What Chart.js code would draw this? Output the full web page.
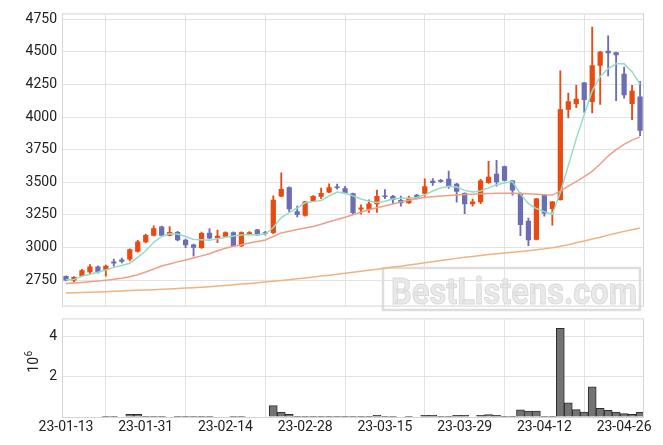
<!DOCTYPE html>
<html>
<head>
<meta charset="utf-8">
<script src="https://cdn.jsdelivr.net/npm/chart.js@4.4.1/dist/chart.umd.min.js"></script>
<style>
  html, body { margin: 0; padding: 0; background: #fff; }
  #wrap { position: relative; width: 663px; height: 445px; overflow: hidden; }
  canvas { position: absolute; left: 0; }
  #price { top: 0; }
  #volume { top: 305px; }
</style>
</head>
<body>
<div id="wrap">
  <canvas id="price" width="663" height="320"></canvas>
  <canvas id="volume" width="663" height="140"></canvas>
</div>
<script>
// trading days (KRX), one candle each
const dates = [
  "23-01-13", "23-01-16", "23-01-17", "23-01-18", "23-01-19", "23-01-20", "23-01-25", "23-01-26", "23-01-27", "23-01-30",
  "23-01-31", "23-02-01", "23-02-02", "23-02-03", "23-02-06", "23-02-07", "23-02-08", "23-02-09", "23-02-10", "23-02-13",
  "23-02-14", "23-02-15", "23-02-16", "23-02-17", "23-02-20", "23-02-21", "23-02-22", "23-02-23", "23-02-24", "23-02-27",
  "23-02-28", "23-03-02", "23-03-03", "23-03-06", "23-03-07", "23-03-08", "23-03-09", "23-03-10", "23-03-13", "23-03-14",
  "23-03-15", "23-03-16", "23-03-17", "23-03-20", "23-03-21", "23-03-22", "23-03-23", "23-03-24", "23-03-27", "23-03-28",
  "23-03-29", "23-03-30", "23-03-31", "23-04-03", "23-04-04", "23-04-05", "23-04-06", "23-04-07", "23-04-10", "23-04-11",
  "23-04-12", "23-04-13", "23-04-14", "23-04-17", "23-04-18", "23-04-19", "23-04-20", "23-04-21", "23-04-24", "23-04-25",
  "23-04-26", "23-04-27", "23-04-28"
]

const open = [
  2782, 2747, 2782, 2811, 2855, 2828, 2893, 2908, 2908, 2967,
  3040, 3091, 3162, 3091, 3120, 3060, 3023, 2996, 3113, 3074,
  3082, 3118, 3009, 3101, 3138, 3113, 3111, 3392, 3462, 3279,
  3243, 3353, 3389, 3421, 3467, 3455, 3416, 3292, 3289, 3331,
  3394, 3396, 3365, 3340, 3404, 3413, 3511, 3518, 3528, 3489,
  3418, 3331, 3347, 3494, 3565, 3623, 3513, 3418, 3206, 3060,
  3404, 3296, 3365, 4057, 4101, 4265, 4116, 4394, 4509, 4496,
  4333, 4101, 4157
]
const high = [
  2784, 2777, 2833, 2870, 2860, 2865, 2911, 2920, 2990, 3055,
  3103, 3167, 3164, 3160, 3125, 3065, 3026, 3118, 3145, 3133,
  3120, 3120, 3120, 3123, 3140, 3125, 3396, 3572, 3465, 3318,
  3355, 3398, 3455, 3489, 3486, 3470, 3418, 3328, 3365, 3440,
  3445, 3401, 3394, 3394, 3406, 3526, 3528, 3523, 3587, 3492,
  3420, 3372, 3523, 3660, 3669, 3625, 3515, 3420, 3226, 3377,
  3406, 3355, 4355, 4184, 4243, 4267, 4689, 4503, 4623, 4498,
  4384, 4243, 4274
]
const low = [
  2745, 2736, 2780, 2799, 2804, 2780, 2857, 2883, 2897, 2965,
  3038, 3089, 3089, 3089, 3050, 2999, 2933, 2994, 3067, 3038,
  3080, 3007, 3007, 3096, 3092, 3094, 3106, 3390, 3274, 3235,
  3240, 3351, 3374, 3419, 3448, 3414, 3258, 3255, 3270, 3270,
  3374, 3338, 3318, 3338, 3372, 3391, 3477, 3500, 3453, 3347,
  3260, 3318, 3336, 3492, 3470, 3509, 3401, 3091, 3014, 3058,
  3240, 3172, 3363, 3994, 4072, 4035, 4031, 4097, 4316, 4126,
  4145, 3980, 3857
]
const close = [
  2747, 2775, 2826, 2855, 2811, 2860, 2877, 2891, 2986, 3047,
  3096, 3147, 3091, 3120, 3055, 3018, 2999, 3111, 3069, 3091,
  3118, 3009, 3118, 3118, 3094, 3106, 3367, 3448, 3294, 3250,
  3353, 3396, 3418, 3462, 3457, 3416, 3265, 3306, 3338, 3396,
  3387, 3365, 3340, 3382, 3375, 3470, 3494, 3504, 3470, 3428,
  3331, 3353, 3513, 3543, 3501, 3511, 3438, 3172, 3055, 3375,
  3260, 3353, 4060, 4121, 4140, 4130, 4397, 4501, 4489, 4474,
  4167, 4201, 3896
]

// moving averages as drawn
const ma5 = [
  2754, 2756, 2780, 2795, 2811, 2828, 2848, 2862, 2880, 2925,
  2975, 3040, 3085, 3105, 3104, 3084, 3062, 3060, 3055, 3067,
  3079, 3089, 3096, 3099, 3099, 3104, 3153, 3230, 3267, 3303,
  3343, 3352, 3360, 3396, 3426, 3416, 3396, 3372, 3355, 3345,
  3355, 3372, 3377, 3377, 3384, 3404, 3433, 3457, 3470, 3464,
  3438, 3426, 3433, 3457, 3482, 3494, 3506, 3409, 3336, 3299,
  3275, 3255, 3421, 3628, 3835, 4018, 4201, 4311, 4372, 4408,
  4408, 4348, 4250
]
const ma20 = [
  2725, 2728, 2732, 2737, 2743, 2750, 2757, 2765, 2776, 2792,
  2812, 2835, 2858, 2874, 2890, 2905, 2920, 2936, 2952, 2975,
  2995, 3010, 3022, 3035, 3046, 3058, 3085, 3112, 3125, 3138,
  3150, 3162, 3178, 3198, 3215, 3232, 3252, 3270, 3290, 3305,
  3318, 3333, 3350, 3363, 3374, 3383, 3390, 3395, 3398, 3403,
  3406, 3409, 3412, 3414, 3416, 3417, 3416, 3415, 3412, 3408,
  3404, 3402, 3433, 3470, 3506, 3543, 3584, 3640, 3701, 3750,
  3791, 3823, 3848
]
const ma60 = [
  2652, 2654, 2656, 2658, 2660, 2662, 2665, 2667, 2670, 2672,
  2675, 2677, 2680, 2683, 2686, 2689, 2692, 2696, 2700, 2705,
  2710, 2715, 2720, 2725, 2730, 2735, 2741, 2747, 2754, 2760,
  2767, 2774, 2781, 2788, 2795, 2803, 2811, 2818, 2826, 2834,
  2842, 2850, 2857, 2866, 2874, 2883, 2891, 2900, 2908, 2917,
  2925, 2932, 2939, 2946, 2952, 2958, 2964, 2970, 2976, 2983,
  2990, 2999, 3010, 3022, 3036, 3050, 3065, 3079, 3095, 3110,
  3124, 3137, 3150
]

const volume = [
  0, 0, 0, 0, 0, 30000, 30000, 0, 130000, 130000,
  30000, 30000, 30000, 0, 30000, 30000, 30000, 30000, 30000, 0,
  0, 30000, 30000, 0, 0, 0, 570000, 240000, 130000, 30000,
  30000, 30000, 30000, 30000, 30000, 30000, 30000, 30000, 30000, 80000,
  30000, 30000, 0, 30000, 0, 80000, 80000, 30000, 30000, 80000,
  80000, 0, 80000, 120000, 80000, 30000, 30000, 360000, 290000, 290000,
  30000, 30000, 4430000, 710000, 370000, 240000, 1510000, 430000, 330000, 240000,
  170000, 130000, 240000
]

const tickIdx = [0, 10, 20, 30, 40, 50, 60, 70]
const priceTicks = [2750, 3000, 3250, 3500, 3750, 4000, 4250, 4500, 4750]
const volumeTicks = [0, 2000000, 4000000]

const UP = "#e84a12"
const DOWN = "#6b6eb3"
const GRID = "#e3e3e3"
const FRAME = "#d4d4d4"
const X_MIN = -0.376
const X_MAX = 72.37

Chart.defaults.font.family = "Roboto"
Chart.defaults.font.size = 14
Chart.defaults.color = "#222"
Chart.defaults.animation = false
Chart.defaults.responsive = false
Chart.defaults.devicePixelRatio = 1
Chart.defaults.plugins.legend.display = false
Chart.defaults.plugins.tooltip.enabled = false

const candleColors = open.map((o, i) => close[i] >= o ? UP : DOWN)
const at = (arr) => arr.map((v, i) => ({ x: i, y: v }))

const frame = {
  id: "frame",
  beforeDatasetsDraw(chart, args, opts) {
    if (!opts.watermark) return
    const ctx = chart.ctx
    ctx.save()
    ctx.strokeStyle = "#dddddd"
    ctx.lineWidth = 2.5
    ctx.strokeRect(383, 268, 257, 42)
    ctx.font = "bold 37px Roboto"
    const w = ctx.measureText("BestListens.com").width
    ctx.translate(391, 304)
    ctx.scale(246 / w, 1)
    ctx.fillStyle = "#e9e9e9"
    ctx.strokeStyle = "#dadada"
    ctx.lineWidth = 1
    ctx.fillText("BestListens.com", 0, 0)
    ctx.strokeText("BestListens.com", 0, 0)
    ctx.restore()
  },
  afterDraw(chart, args, opts) {
    const { ctx, chartArea: a } = chart
    ctx.save()
    ctx.strokeStyle = FRAME
    ctx.lineWidth = 1
    ctx.strokeRect(a.left - 0.5, a.top - 0.5, a.right - a.left + 1, a.bottom - a.top + 1)
    if (opts.unit) {
      // axis multiplier, rotated: "10" with a raised "6"
      ctx.translate(38, 57)
      ctx.rotate(-Math.PI / 2)
      ctx.fillStyle = "#222"
      ctx.textAlign = "left"
      ctx.font = "14px Roboto"
      const wBase = ctx.measureText(opts.unit[0]).width
      ctx.font = "10px Roboto"
      const wExp = ctx.measureText(opts.unit[1]).width
      const x0 = -(wBase + wExp) / 2
      ctx.font = "14px Roboto"
      ctx.fillText(opts.unit[0], x0, 0)
      ctx.font = "10px Roboto"
      ctx.fillText(opts.unit[1], x0 + wBase + 0.5, -6)
    }
    ctx.restore()
  }
}

const xAxis = (showLabels) => ({
  type: "linear",
  min: X_MIN,
  max: X_MAX,
  offset: false,
  afterBuildTicks: s => { s.ticks = tickIdx.map(v => ({ value: v })) },
  afterFit: s => { s.height = showLabels ? 28 : 0 },
  grid: { color: GRID, drawTicks: false },
  border: { display: false },
  ticks: {
    display: showLabels,
    padding: 2,
    maxRotation: 0,
    autoSkip: false,
    callback: v => dates[v]
  }
})

new Chart(document.getElementById("price"), {
  type: "bar",
  data: {
    datasets: [
      { type: "line", data: at(ma60), borderColor: "#f0b280", borderWidth: 1.5, pointRadius: 0, order: 0 },
      { type: "line", data: at(ma20), borderColor: "#ee9f85", borderWidth: 1.5, pointRadius: 0, order: 0 },
      { type: "line", data: at(ma5), borderColor: "#92ddc3", borderWidth: 1.5, pointRadius: 0, order: 0 },
      {
        data: open.map((o, i) => ({ x: i, y: [o, close[i]] })),
        backgroundColor: candleColors, grouped: false,
        barPercentage: 0.66, categoryPercentage: 1, minBarLength: 1.5, order: 1
      },
      {
        data: low.map((l, i) => ({ x: i, y: [l, high[i]] })),
        backgroundColor: candleColors, grouped: false,
        barThickness: 1.2, order: 2
      }
    ]
  },
  options: {
    layout: { padding: { left: 0, right: 20, top: 10, bottom: 5 } },
    scales: {
      x: xAxis(false),
      y: {
        min: 2555,
        max: 4787,
        afterBuildTicks: s => { s.ticks = priceTicks.map(v => ({ value: v })) },
        afterFit: s => { s.width = 63 },
        grid: { color: GRID, drawTicks: false },
        border: { display: false },
        ticks: { padding: 6, callback: v => String(v) }
      }
    },
    plugins: { frame: { watermark: true } }
  },
  plugins: [frame]
})

new Chart(document.getElementById("volume"), {
  type: "bar",
  data: {
    datasets: [{
      data: at(volume),
      backgroundColor: "#737373",
      borderColor: "#2e2e2e",
      borderWidth: 1,
      barPercentage: 1,
      categoryPercentage: 1
    }]
  },
  options: {
    layout: { padding: { left: 0, right: 20, top: 10, bottom: 0 } },
    scales: {
      x: xAxis(true),
      y: {
        min: 0,
        max: 4870000,
        afterBuildTicks: s => { s.ticks = volumeTicks.map(v => ({ value: v })) },
        afterFit: s => { s.width = 63 },
        grid: { color: GRID, drawTicks: false },
        border: { display: false },
        ticks: { padding: 6, callback: v => v === 0 ? "" : String(v / 1000000) }
      }
    },
    plugins: { frame: { unit: ["10", "6"] } }
  },
  plugins: [frame]
})
</script>
</body>
</html>
